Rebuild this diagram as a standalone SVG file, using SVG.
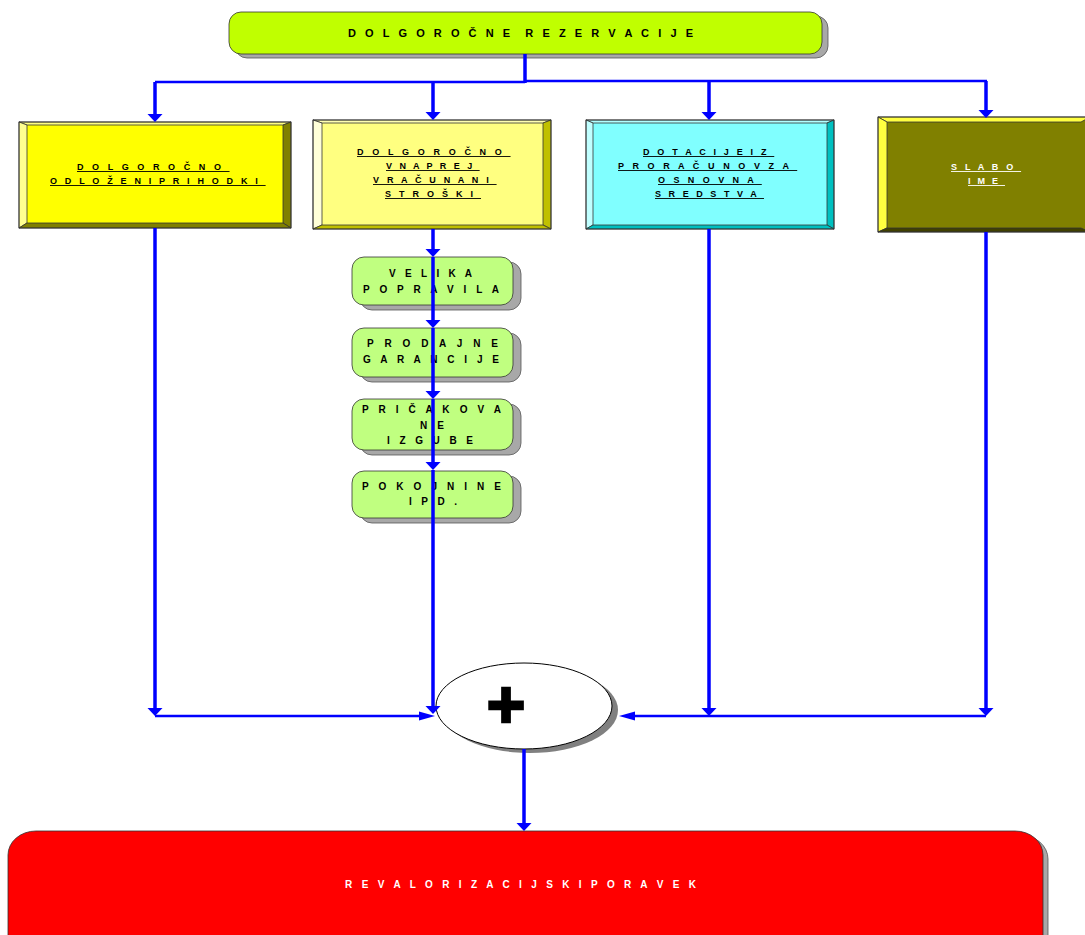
<svg xmlns="http://www.w3.org/2000/svg" width="1085" height="935" viewBox="0 0 1085 935">
<style>
.t{font-family:"Liberation Sans",Arial,sans-serif;font-weight:bold;fill:#000}
.s9{font-size:9px}
.s10{font-size:10px}
.s11{font-size:11px}
.u{text-decoration:underline;white-space:pre}
.w{fill:#fff}
.edge{stroke:#333;stroke-width:0.8;stroke-linejoin:round}
.v{stroke:#0000ff;stroke-width:3.5;fill:none}
.h{stroke:#0000ff;stroke-width:2.5;fill:none}
.shadow{fill:#a8a8a8;stroke:#555;stroke-width:0.8}
</style>
<defs>
<marker id="arrV" markerUnits="userSpaceOnUse" markerWidth="9" markerHeight="16" refX="0" refY="7.5" orient="auto" overflow="visible">
<path d="M0,0 L8,7.5 L0,15 z" fill="#0000ff"/>
</marker>
<marker id="arrH" markerUnits="userSpaceOnUse" markerWidth="17" markerHeight="10" refX="0" refY="4.5" orient="auto" overflow="visible">
<path d="M0,0 L16,4.5 L0,9 z" fill="#0000ff"/>
</marker>
</defs>
<rect width="1085" height="935" fill="#fff"/>

<g id="top">
<rect class="shadow" x="235" y="16" width="593" height="42" rx="12"/>
<rect x="229" y="12" width="593" height="42" rx="12" fill="#c0ff00" stroke="#333" stroke-width="0.8"/>
<text class="t s11" x="348" y="37" textLength="345" lengthAdjust="spacing" style="white-space:pre">D O L G O R O Č N E  R E Z E R V A C I J E</text>
</g>

<g id="box1">
<rect x="19" y="122" width="272" height="106" fill="#ffff00"/>
<polygon class="edge" points="19,122 291,122 283,125 27,125" fill="#ffff80"/>
<polygon class="edge" points="19,122 27,125 27,223 19,228" fill="#ffff90"/>
<polygon class="edge" points="291,122 291,228 283,223 283,125" fill="#808000"/>
<polygon class="edge" points="19,228 291,228 283,223 27,223" fill="#808000"/>
<rect x="19" y="122" width="272" height="106" fill="none" stroke="#333" stroke-width="0.8"/>
<text class="t s9 u" x="77" y="170" letter-spacing="3.06">D O L G O R O Č N O </text>
<text class="t s9 u" x="50" y="184" letter-spacing="2.67">O D L O Ž E N I P R I H O D K I </text>
</g>

<g id="box2">
<rect x="313" y="120" width="238" height="109" fill="#ffff80"/>
<polygon class="edge" points="313,120 551,120 543,123 322,123" fill="#ffffb0"/>
<polygon class="edge" points="313,120 322,123 322,225 313,229" fill="#ffffd8"/>
<polygon class="edge" points="551,120 551,229 543,225 543,123" fill="#c0c000"/>
<polygon class="edge" points="313,229 551,229 543,225 322,225" fill="#c0c000"/>
<rect x="313" y="120" width="238" height="109" fill="none" stroke="#333" stroke-width="0.8"/>
<text class="t s9 u" x="357" y="155" letter-spacing="3.11">D O L G O R O Č N O </text>
<text class="t s9 u" x="386" y="169" letter-spacing="2.46">V N A P R E J </text>
<text class="t s9 u" x="373" y="183" letter-spacing="2.69">V R A Č U N A N I </text>
<text class="t s9 u" x="385" y="197" letter-spacing="2.75">S T R O Š K I </text>
</g>

<g id="box3">
<rect x="586" y="120" width="248" height="109" fill="#80ffff"/>
<polygon class="edge" points="586,120 834,120 827,123 593,123" fill="#b0ffff"/>
<polygon class="edge" points="586,120 593,123 593,225 586,229" fill="#c0ffff"/>
<polygon class="edge" points="834,120 834,229 827,225 827,123" fill="#00c0c0"/>
<polygon class="edge" points="586,229 834,229 827,225 593,225" fill="#00c0c0"/>
<rect x="586" y="120" width="248" height="109" fill="none" stroke="#333" stroke-width="0.8"/>
<text class="t s9 u" x="643" y="155" letter-spacing="2.67">D O T A C I J E I Z </text>
<text class="t s9 u" x="618" y="169" letter-spacing="3.07">P R O R A Č U N O V Z A </text>
<text class="t s9 u" x="658" y="183" letter-spacing="2.96">O S N O V N A </text>
<text class="t s9 u" x="655" y="197" letter-spacing="2.54">S R E D S T V A </text>
</g>

<g id="box4">
<rect x="878" y="117" width="212" height="115" fill="#808000"/>
<polygon class="edge" points="878,117 1090,117 1081,122 887,122" fill="#ffff40"/>
<polygon class="edge" points="878,117 887,122 887,228 878,232" fill="#ffff40"/>
<polygon class="edge" points="878,232 1090,232 1081,228 887,228" fill="#404000"/>
<rect x="878" y="117" width="212" height="115" fill="none" stroke="#333" stroke-width="0.8"/>
<text class="t s9 u w" x="951" y="170" letter-spacing="2.69">S L A B O </text>
<text class="t s9 u w" x="968" y="184" letter-spacing="2.25">I M E </text>
</g>

<g id="sub1">
<rect class="shadow" x="360" y="262" width="161" height="48" rx="12"/>
<rect x="352" y="257" width="161" height="48" rx="12" fill="#c0ff80" stroke="#333" stroke-width="0.8"/>
<text class="t s10" x="389" y="277" textLength="83" lengthAdjust="spacing">V E L I K A</text>
<text class="t s10" x="363" y="293" textLength="136" lengthAdjust="spacing">P O P R A V I L A</text>
</g>

<g id="sub2">
<rect class="shadow" x="360" y="333" width="161" height="49" rx="12"/>
<rect x="352" y="328" width="161" height="49" rx="12" fill="#c0ff80" stroke="#333" stroke-width="0.8"/>
<text class="t s10" x="367" y="347" textLength="131" lengthAdjust="spacing">P R O D A J N E</text>
<text class="t s10" x="363" y="363" textLength="136" lengthAdjust="spacing">G A R A N C I J E</text>
</g>

<g id="sub3">
<rect class="shadow" x="360" y="404" width="161" height="51" rx="12"/>
<rect x="352" y="399" width="161" height="51" rx="12" fill="#c0ff80" stroke="#333" stroke-width="0.8"/>
<text class="t s10" x="362" y="413" textLength="139" lengthAdjust="spacing">P R I Č A K O V A</text>
<text class="t s10" x="420" y="429" textLength="24" lengthAdjust="spacing">N E</text>
<text class="t s10" x="387" y="444" textLength="86" lengthAdjust="spacing">I Z G U B E</text>
</g>

<g id="sub4">
<rect class="shadow" x="360" y="476" width="161" height="47" rx="12"/>
<rect x="352" y="471" width="161" height="47" rx="12" fill="#c0ff80" stroke="#333" stroke-width="0.8"/>
<text class="t s10" x="362" y="490" textLength="139" lengthAdjust="spacing">P O K O J N I N E</text>
<text class="t s10" x="409" y="505" textLength="48" lengthAdjust="spacing">I P D .</text>
</g>

<g id="plus">
<ellipse cx="530" cy="710" rx="88" ry="43" fill="#808080"/>
<ellipse cx="524" cy="706" rx="88" ry="43" fill="#fff" stroke="#000" stroke-width="1"/>
<text class="t" x="506" y="727" font-size="66" text-anchor="middle" stroke="#000" stroke-width="2.5">+</text>
</g>

<g id="result">
<rect class="shadow" x="13" y="835" width="1035" height="140" rx="28" ry="24"/>
<rect x="8" y="831" width="1035" height="140" rx="28" ry="24" fill="#ff0000" stroke="#333" stroke-width="0.8"/>
<text class="t s10 w" x="345" y="888" textLength="351" lengthAdjust="spacing">R E V A L O R I Z A C I J S K I P O R A V E K</text>
</g>

<g id="connectors">
<line class="v" x1="525" y1="54" x2="525" y2="83" stroke-width="4"/>
<line class="h" x1="155" y1="82" x2="525" y2="82" stroke-width="3"/>
<line class="h" x1="525" y1="81" x2="987" y2="81" stroke-width="3"/>
<line class="v" x1="155" y1="82" x2="155" y2="114" marker-end="url(#arrV)"/>
<line class="v" x1="433" y1="82" x2="433" y2="112" marker-end="url(#arrV)"/>
<line class="v" x1="709" y1="81" x2="709" y2="112" marker-end="url(#arrV)"/>
<line class="v" x1="986" y1="81" x2="986" y2="110" marker-end="url(#arrV)"/>
<line class="v" x1="155" y1="228" x2="155" y2="708" marker-end="url(#arrV)"/>
<line class="h" x1="155" y1="716" x2="419" y2="716" marker-end="url(#arrH)"/>
<line class="v" x1="433" y1="229" x2="433" y2="249" marker-end="url(#arrV)"/>
<line class="v" x1="433" y1="257" x2="433" y2="320" marker-end="url(#arrV)"/>
<line class="v" x1="433" y1="328" x2="433" y2="391" marker-end="url(#arrV)"/>
<line class="v" x1="433" y1="399" x2="433" y2="462" marker-end="url(#arrV)"/>
<line class="v" x1="433" y1="470" x2="433" y2="706" marker-end="url(#arrV)"/>
<line class="v" x1="709" y1="229" x2="709" y2="708" marker-end="url(#arrV)"/>
<line class="v" x1="986" y1="232" x2="986" y2="708" marker-end="url(#arrV)"/>
<line class="h" x1="986" y1="716" x2="635" y2="716" marker-end="url(#arrH)"/>
<line class="v" x1="524" y1="749" x2="524" y2="823" marker-end="url(#arrV)"/>
</g>
</svg>
